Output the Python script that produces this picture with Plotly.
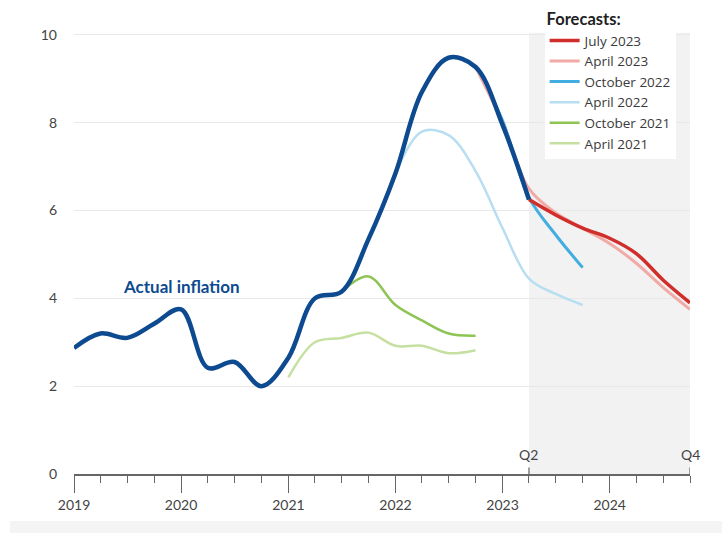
import plotly.graph_objects as go

# Quarterly inflation, year-over-year percent
actual_dates = ["2019-01-01", "2019-04-01", "2019-07-01", "2019-10-01",
                "2020-01-01", "2020-04-01", "2020-07-01", "2020-10-01",
                "2021-01-01", "2021-04-01", "2021-07-01", "2021-10-01",
                "2022-01-01", "2022-04-01", "2022-07-01", "2022-10-01",
                "2023-01-01", "2023-04-01"]
actual_vals = [2.87, 3.2, 3.1, 3.42, 3.75, 2.42, 2.55, 2.0, 2.65, 4.0, 4.15, 5.35,
               6.85, 8.7, 9.48, 9.27, 7.95, 6.25]

apr21_dates = ["2021-01-01", "2021-04-01", "2021-07-01", "2021-10-01",
               "2022-01-01", "2022-04-01", "2022-07-01", "2022-10-01"]
apr21_vals = [2.2, 3.0, 3.1, 3.22, 2.92, 2.92, 2.75, 2.82]

oct21_dates = ["2021-07-01", "2021-10-01", "2022-01-01", "2022-04-01",
               "2022-07-01", "2022-10-01"]
oct21_vals = [4.15, 4.5, 3.85, 3.5, 3.2, 3.15]

apr22_dates = ["2022-01-01", "2022-04-01", "2022-07-01", "2022-10-01",
               "2023-01-01", "2023-04-01", "2023-07-01", "2023-10-01"]
apr22_vals = [6.85, 7.8, 7.72, 6.9, 5.6, 4.45, 4.1, 3.85]

oct22_dates = ["2022-10-01", "2023-01-01", "2023-04-01", "2023-07-01", "2023-10-01"]
oct22_vals = [9.3, 8.05, 6.3, 5.45, 4.7]

apr23_dates = ["2022-10-01", "2023-01-01", "2023-04-01", "2023-07-01", "2023-10-01",
               "2024-01-01", "2024-04-01", "2024-07-01", "2024-10-01"]
apr23_vals = [9.27, 8.0, 6.5, 5.95, 5.6, 5.25, 4.8, 4.25, 3.75]

jul23_dates = ["2023-04-01", "2023-07-01", "2023-10-01", "2024-01-01",
               "2024-04-01", "2024-07-01", "2024-10-01"]
jul23_vals = [6.25, 5.9, 5.6, 5.37, 5.02, 4.42, 3.9]

y_ticks = [0, 2, 4, 6, 8, 10]
quarter_marks = [("2023-04-01", "Q2"), ("2024-10-01", "Q4")]

FONT = "Lato, 'Open Sans', sans-serif"
LEGEND_FONT = "'Open Sans', Lato, sans-serif"
AXIS_GREY = "#666666"
TEXT_GREY = "#444444"
DARK_BLUE = "#0d4a8f"

# Forecast vintages, oldest first so newer lines sit on top
forecasts = [
    ("April 2021", apr21_dates, apr21_vals, "#c6e0a2", 2.5),
    ("October 2021", oct21_dates, oct21_vals, "#8dc454", 2.5),
    ("April 2022", apr22_dates, apr22_vals, "#b8def2", 2.5),
    ("October 2022", oct22_dates, oct22_vals, "#42ade0", 3),
    ("April 2023", apr23_dates, apr23_vals, "#f2aaa6", 3),
    ("July 2023", jul23_dates, jul23_vals, "#cf2e2a", 3.5),
]

fig = go.Figure()
for name, xs, ys, color, width in forecasts:
    fig.add_trace(go.Scatter(
        x=xs, y=ys, name=name, mode="lines",
        line=dict(color=color, width=width, shape="spline", smoothing=1),
        hoverinfo="skip",
    ))

fig.add_trace(go.Scatter(
    x=actual_dates, y=actual_vals, name="Actual inflation", mode="lines",
    line=dict(color=DARK_BLUE, width=4.5, shape="spline", smoothing=1),
    showlegend=False, hoverinfo="skip",
))

shapes = [
    # forecast horizon shading
    dict(type="rect", xref="x", yref="y", x0="2023-04-01", x1="2024-10-01",
         y0=0, y1=10.05, fillcolor="#f2f2f2", line_width=0, layer="below"),
    # footer band
    dict(type="rect", xref="paper", yref="paper", x0=-0.104, x1=1.06,
         y0=-0.13, y1=-0.102, fillcolor="#f4f4f4", line_width=0, layer="below"),
]
annotations = [
    dict(x="2020-01-01", y=4.26, text="<b>Actual inflation</b>", showarrow=False,
         font=dict(family=FONT, size=17, color=DARK_BLUE)),
]
for qx, qlabel in quarter_marks:
    shapes.append(dict(type="line", xref="x", yref="y", x0=qx, x1=qx, y0=0, y1=0.15,
                       line=dict(color=AXIS_GREY, width=1.2)))
    annotations.append(dict(x=qx, y=0, yanchor="bottom", yshift=9, text=qlabel,
                            showarrow=False,
                            font=dict(family=FONT, size=14, color=TEXT_GREY)))

fig.update_layout(
    width=722, height=533,
    margin=dict(l=74, r=32, t=13, b=59, autoexpand=False),
    paper_bgcolor="white", plot_bgcolor="white",
    font=dict(family=FONT, size=14, color=TEXT_GREY),
    shapes=shapes, annotations=annotations,
    showlegend=True,
    legend=dict(
        title=dict(text="<b>Forecasts:</b>", font=dict(family=FONT, size=16.5, color="#222222")),
        traceorder="reversed", x=0.764, y=1.02, xanchor="left", yanchor="top",
        bgcolor="white", borderwidth=0, itemwidth=30,
        font=dict(family=LEGEND_FONT, size=13.5, color="#3a3a3a"),
        tracegroupgap=0,
    ),
    xaxis=dict(
        type="date", range=["2019-01-01", "2024-10-01"],
        tick0="2019-01-01", dtick="M12", tickformat="%Y",
        ticks="outside", ticklen=17, tickwidth=1.2, tickcolor=AXIS_GREY,
        minor=dict(dtick="M3", tick0="2019-01-01", ticks="outside", ticklen=7,
                   tickwidth=1.2, tickcolor=AXIS_GREY, showgrid=False),
        showgrid=False, zeroline=False,
        showline=True, linecolor=AXIS_GREY, linewidth=1.5,
        tickfont=dict(family=FONT, size=14, color=TEXT_GREY),
        fixedrange=True,
    ),
    yaxis=dict(
        range=[0, 10.5], tickvals=y_ticks, ticks="",
        showgrid=True, gridcolor="#e8e8e8", gridwidth=1,
        zeroline=False, showline=False, ticklabelstandoff=16,
        tickfont=dict(family=FONT, size=14, color=TEXT_GREY),
        fixedrange=True,
    ),
)

fig.write_html("out.html")
